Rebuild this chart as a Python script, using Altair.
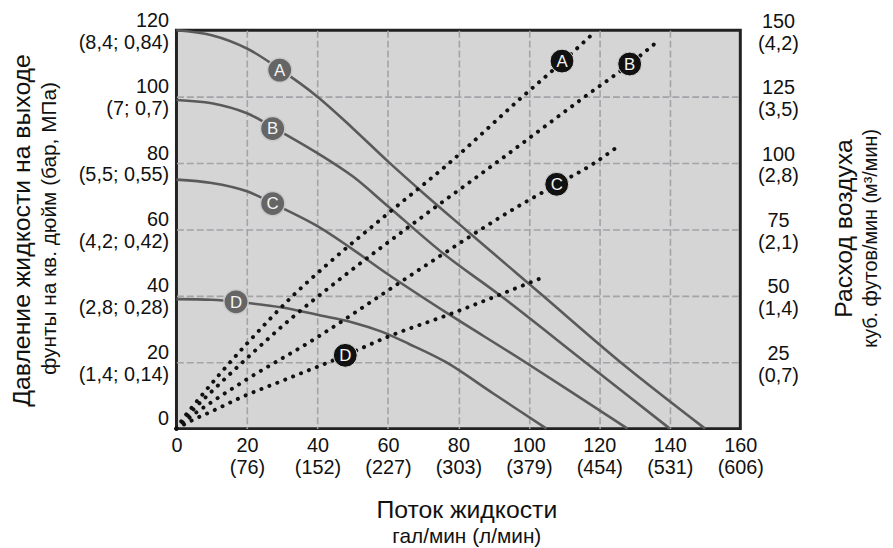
import altair as alt
import pandas as pd

FONT = "Liberation Sans"

# ---- solid curves: outlet fluid pressure (psi) vs fluid flow (gpm)
A_FLOW = [0, 10, 20, 29, 40, 50, 60, 70, 82, 104, 126, 150]
A_PSI = [120, 118.5, 114.5, 108.5, 100, 90.5, 80.5, 71, 60, 40, 20, 0]
B_FLOW = [0, 10, 20, 27, 40, 50, 60, 76, 92, 116, 140]
B_PSI = [99, 98, 95, 91, 83, 76, 67, 52.5, 40, 20, 0]
C_FLOW = [0, 10, 20, 27, 40, 50, 60, 76.5, 99, 128]
C_PSI = [75, 74, 71.5, 68, 61, 54, 46.5, 35, 20, 0]
D_FLOW = [0, 10, 17, 30, 40, 50, 58, 66, 76.5, 90, 105]
D_PSI = [39, 38.8, 38.2, 36.5, 34.3, 32, 29.3, 25.5, 20, 10.5, 0]

# ---- dotted curves: air consumption (scfm) vs fluid flow (gpm)
AA_FLOW = [0, 2, 5, 11.8, 20, 33.8, 41.9, 60, 77.4, 98.2, 109.4, 117.6]
AA_CFM = [0, 4, 9, 19.8, 32, 51, 60.8, 81, 100, 125, 138, 148]
BA_FLOW = [0, 5, 10, 20.3, 33, 46.1, 70, 90.6, 115.9, 128.6, 136.7]
BA_CFM = [0, 7.5, 14, 26.9, 42, 56, 80, 100, 125, 137.3, 146]
CA_FLOW = [0, 5, 10, 19.3, 39, 60, 76.5, 98, 108, 118, 125]
CA_CFM = [0, 5.5, 10, 18, 33.6, 52, 66.5, 84.5, 92, 99.5, 106]
DA_FLOW = [0, 5, 10, 18.4, 30, 47.9, 60, 78.4, 89.2, 105]
DA_CFM = [0, 3.5, 6.5, 11.8, 18, 27.6, 34.6, 43.5, 49.1, 57.5]

CURVES = ["A", "B", "C", "D"]

# curve labels
SOLID_LBL_FLOW = [29.3, 27.3, 27.3, 16.9]
SOLID_LBL_PSI = [108, 90.4, 67.8, 38.2]
AIR_LBL_FLOW = [109.4, 128.6, 107.9, 47.9]
AIR_LBL_CFM = [138.4, 137.3, 92, 27.6]

# axis ticks / labels
X_TICKS = [0, 20, 40, 60, 80, 100, 120, 140, 160]
X_MAIN = ["0", "20", "40", "60", "80", "100", "120", "140", "160"]
X_SUB = ["", "(76)", "(152)", "(227)", "(303)", "(379)", "(454)", "(531)", "(606)"]
L_TICKS = [0, 20, 40, 60, 80, 100, 120]
L_MAIN = ["0", "20", "40", "60", "80", "100", "120"]
L_SUB = ["", "(1,4; 0,14)", "(2,8; 0,28)", "(4,2; 0,42)", "(5,5; 0,55)", "(7; 0,7)", "(8,4; 0,84)"]
R_TICKS = [25, 50, 75, 100, 125, 150]
R_MAIN = ["25", "50", "75", "100", "125", "150"]
R_SUB = ["(0,7)", "(1,4)", "(2,1)", "(2,8)", "(3,5)", "(4,2)"]

LEFT_TITLE = "Давление жидкости на выходе"
LEFT_SUB = "фунты на кв. дюйм (бар, МПа)"
RIGHT_TITLE = "Расход воздуха"
RIGHT_SUB = "куб. футов/мин (м³/мин)"
X_TITLE = "Поток жидкости"
X_SUBT = "гал/мин (л/мин)"


def label_expr(ticks, main, sub, keep_empty=False):
    expr = "''"
    for t, m, s in reversed(list(zip(ticks, main, sub))):
        lines = [m, s] if (s or keep_empty) else [m]
        arr = "[" + ",".join("'" + v + "'" for v in lines) + "]"
        expr = f"datum.value == {t} ? {arr} : ({expr})"
    return expr


solid = pd.concat([
    pd.DataFrame({"flow": f, "psi": p, "curve": c})
    for f, p, c in zip([A_FLOW, B_FLOW, C_FLOW, D_FLOW], [A_PSI, B_PSI, C_PSI, D_PSI], CURVES)
])
air = pd.concat([
    pd.DataFrame({"flow": f, "cfm": p, "curve": c})
    for f, p, c in zip([AA_FLOW, BA_FLOW, CA_FLOW, DA_FLOW], [AA_CFM, BA_CFM, CA_CFM, DA_CFM], CURVES)
])
solid_lbl = pd.DataFrame({"flow": SOLID_LBL_FLOW, "psi": SOLID_LBL_PSI, "curve": CURVES})
air_lbl = pd.DataFrame({"flow": AIR_LBL_FLOW, "cfm": AIR_LBL_CFM, "curve": CURVES})

edge_x = "datum.value == 0 || datum.value == 160"
edge_y = "datum.value == 0 || datum.value == 120"
GRID_COLOR = "#a3a3a8"

x_enc = alt.X(
    "flow:Q",
    scale=alt.Scale(domain=[0, 160], nice=False, zero=False),
    axis=alt.Axis(
        values=X_TICKS, labelExpr=label_expr(X_TICKS, X_MAIN, X_SUB), title=None,
        grid=True, gridDash=[7, 3], gridColor=GRID_COLOR, gridWidth=1.6,
        gridOpacity={"condition": {"test": edge_x, "value": 0}, "value": 1},
        ticks=False, domain=False, labelPadding=7, labelFontSize=20, labelLineHeight=22,
        labelFont=FONT, labelColor="#111", labelAlign="center", labelBaseline="top",
        labelFlush=False, labelOverlap=False, labelBound=False,
    ),
)

y_left = alt.Y(
    "psi:Q",
    scale=alt.Scale(domain=[0, 120], nice=False),
    axis=alt.Axis(
        orient="left", values=L_TICKS, labelExpr=label_expr(L_TICKS, L_MAIN, L_SUB, keep_empty=True),
        title=None, grid=True, gridDash=[7, 3], gridColor=GRID_COLOR, gridWidth=1.6,
        gridOpacity={"condition": {"test": edge_y, "value": 0}, "value": 1},
        ticks=False, domain=False, labelPadding=8, labelFontSize=20, labelLineHeight=22,
        labelFont=FONT, labelColor="#111", labelAlign="right", labelBaseline="middle",
        labelOffset=-10, labelOverlap=False, labelBound=False, labelFlush=False,
    ),
)

y_right = alt.Y(
    "cfm:Q",
    scale=alt.Scale(domain=[0, 150], nice=False),
    axis=alt.Axis(
        orient="right", values=R_TICKS, labelExpr=label_expr(R_TICKS, R_MAIN, R_SUB), title=None,
        grid=False, ticks=False, domain=False, labelPadding=38, labelFontSize=20, labelLineHeight=22,
        labelFont=FONT, labelColor="#111", labelAlign="center", labelBaseline="middle",
        labelOffset=-9, labelOverlap=False, labelBound=False, labelFlush=False,
    ),
)

solid_lines = alt.Chart(solid).mark_line(
    color="#5a5a5a", strokeWidth=2.6, interpolate="catmull-rom"
).encode(x=x_enc, y=y_left, detail="curve:N")
solid_pts = alt.Chart(solid_lbl).mark_point(
    shape="circle", filled=True, size=600, fill="#656565", stroke="#c8c8c8", strokeWidth=1.5, opacity=1
).encode(x=x_enc, y=y_left)
solid_txt = alt.Chart(solid_lbl).mark_text(
    font=FONT, fontSize=17, color="#f4f4f4", baseline="middle", align="center", dy=1
).encode(x=x_enc, y=y_left, text="curve:N")

left_layer = alt.layer(solid_lines, solid_pts, solid_txt)

air_lines = alt.Chart(air).mark_line(
    color="#111", strokeWidth=4, strokeDash=[0.1, 8.5], strokeCap="round", interpolate="monotone"
).encode(x=x_enc, y=y_right, detail="curve:N")
air_pts = alt.Chart(air_lbl).mark_point(
    shape="circle", filled=True, size=580, fill="#111", stroke="#d8d8d8", strokeWidth=1, opacity=1
).encode(x=x_enc, y=y_right)
air_txt = alt.Chart(air_lbl).mark_text(
    font=FONT, fontSize=17, color="#f4f4f4", baseline="middle", align="center", dy=1
).encode(x=x_enc, y=y_right, text="curve:N")

right_layer = alt.layer(air_lines, air_pts, air_txt)


def title_mark(text, x, y, size, angle=0, baseline="middle"):
    return alt.Chart(pd.DataFrame({"t": [text]})).mark_text(
        font=FONT, fontSize=size, color="#111", align="center", baseline=baseline, angle=angle
    ).encode(text="t:N", x=alt.value(x), y=alt.value(y))


titles = [
    title_mark(LEFT_TITLE, -156, 202, 25, angle=270),
    title_mark(LEFT_SUB, -128, 200, 21, angle=270),
    title_mark(RIGHT_TITLE, 674, 200, 25, angle=270),
    title_mark(RIGHT_SUB, 701, 210, 20, angle=270),
    title_mark(X_TITLE, 293, 492, 25, baseline="alphabetic"),
    title_mark(X_SUBT, 293, 517, 21, baseline="alphabetic"),
]

chart = alt.layer(left_layer, right_layer, *titles).resolve_scale(y="independent").properties(
    width=569, height=402,
    autosize=alt.AutoSizeParams(type="none"),
    padding={"left": 170, "top": 20, "right": 146, "bottom": 118},
    background="white",
).configure_view(
    fill="#d5d5d5", stroke="#222", strokeWidth=3
)

chart.save("out.html", embed_options={"renderer": "svg", "actions": False})
